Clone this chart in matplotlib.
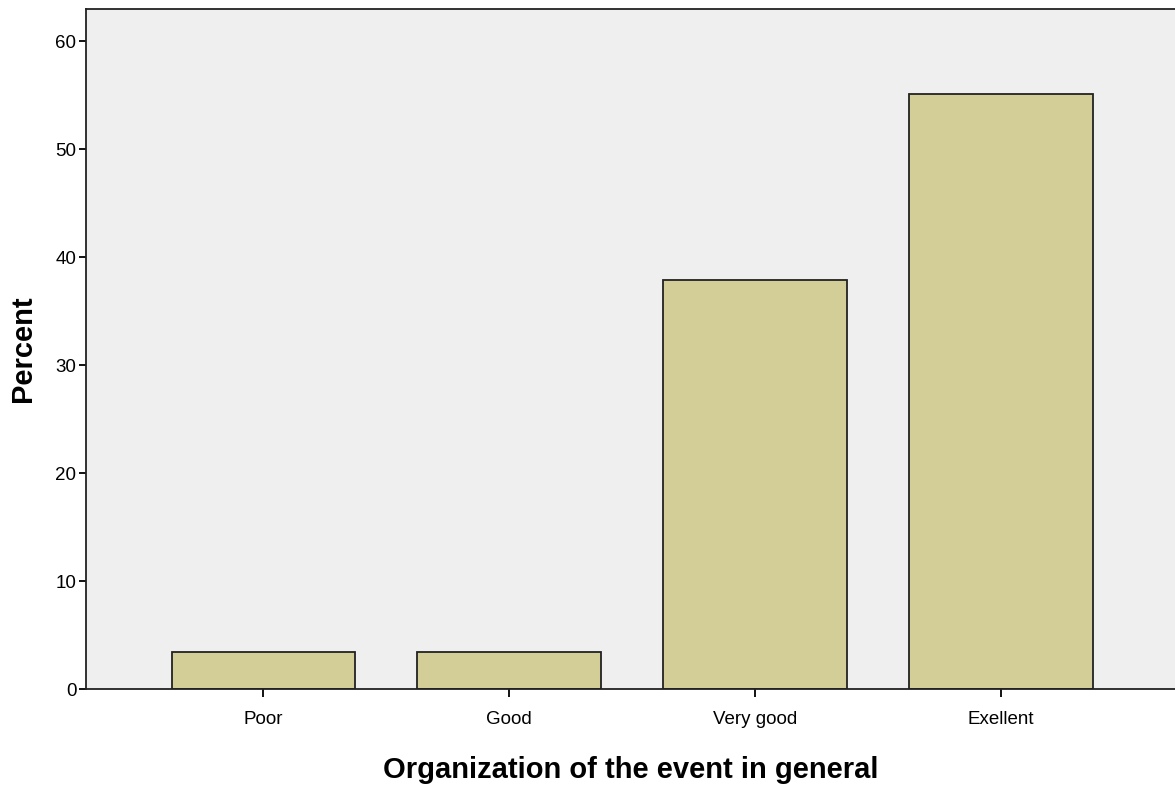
import matplotlib
matplotlib.use('Agg')
import matplotlib.pyplot as plt

categories = ['Poor', 'Good', 'Very good', 'Exellent']
percent = [3.45, 3.45, 37.93, 55.17]
yticks = [0, 10, 20, 30, 40, 50, 60]

plt.rcParams['font.family'] = ['Liberation Sans', 'DejaVu Sans']

fig = plt.figure(figsize=(11.75, 7.88), dpi=100)
ax = fig.add_axes([0.0732, 0.1256, 0.9268, 0.863])
ax.set_facecolor('#efefef')

x = range(len(categories))
ax.bar(x, percent, width=0.748, color='#d3ce97', edgecolor='#222222', linewidth=1.3, zorder=2)

ax.set_xlim(-0.722, 3.708)
ax.set_ylim(0, 63)
ax.set_xticks(list(x))
ax.set_xticklabels(categories, fontsize=13.5)
ax.set_yticks(yticks)
ax.tick_params(axis='y', labelsize=13.5, length=5, width=1.3, pad=2)
ax.tick_params(axis='x', length=6, width=1.3, pad=10)

ax.spines['right'].set_visible(False)
for s in ['left', 'bottom', 'top']:
    ax.spines[s].set_linewidth(1.3)
    ax.spines[s].set_color('#222222')

ax.set_xlabel('Organization of the event in general', fontsize=21, fontweight='bold', labelpad=20)
ax.set_ylabel('Percent', fontsize=21, fontweight='bold', labelpad=13)

fig.savefig('out.png', dpi=100)
